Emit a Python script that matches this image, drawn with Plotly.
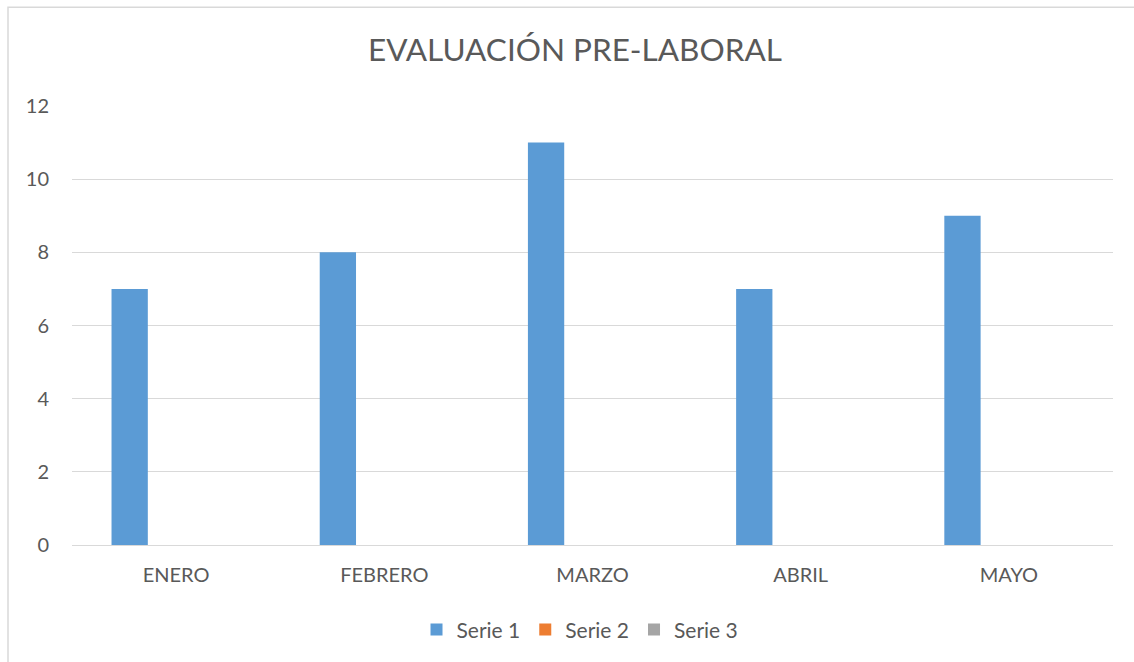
import plotly.graph_objects as go

categories = ["ENERO", "FEBRERO", "MARZO", "ABRIL", "MAYO"]
serie1 = [7, 8, 11, 7, 9]
serie2 = [0, 0, 0, 0, 0]
serie3 = [0, 0, 0, 0, 0]
y_ticks = [0, 2, 4, 6, 8, 10, 12]

FONT = "Lato"
GRAY = "#595959"

fig = go.Figure()
for name, vals, col in [("Serie 1", serie1, "#5B9BD5"),
                        ("Serie 2", serie2, "#ED7D31"),
                        ("Serie 3", serie3, "#A5A5A5")]:
    fig.add_trace(go.Bar(x=categories, y=vals, name=name,
                         marker=dict(color=col, line=dict(width=0))))

fig.update_layout(
    width=1134, height=662,
    template="none",
    paper_bgcolor="white", plot_bgcolor="white",
    barmode="group", bargap=0.331, bargroupgap=0.218,
    margin=dict(l=72, r=21, t=106, b=117),
    font=dict(family=FONT, color=GRAY, size=19),
    title=dict(text="EVALUACIÓN PRE-LABORAL", x=0.507, xanchor="center",
               y=1 - 50 / 662, yanchor="middle", yref="container",
               font=dict(family=FONT, size=31.5, color=GRAY)),
    showlegend=True,
    legend=dict(orientation="h", x=0.488, xanchor="center",
                y=-0.1935, yanchor="middle",
                font=dict(family=FONT, size=21, color=GRAY),
                itemwidth=30, traceorder="normal"),
    xaxis=dict(showgrid=False, showline=True, linecolor="#D9D9D9", linewidth=1,
               ticks="", ticklabelstandoff=12,
               tickfont=dict(family=FONT, size=20, color=GRAY)),
    yaxis=dict(range=[0, 12], tickvals=y_ticks, showgrid=True, gridcolor="#D9D9D9",
               gridwidth=1, zeroline=False, showline=False, ticks="",
               ticklabelstandoff=22,
               tickfont=dict(family=FONT, size=20, color=GRAY)),
    shapes=[dict(type="rect", xref="paper", yref="paper",
                 x0=(8 - 72) / 1041, x1=1.2, y0=-0.5, y1=(545 - 7) / 439.3,
                 line=dict(color="#D9D9D9", width=1.5), fillcolor="rgba(0,0,0,0)",
                 layer="below")],
)

fig.write_html("out.html", config={"displayModeBar": False},
               post_script="document.body.style.margin='0';")
